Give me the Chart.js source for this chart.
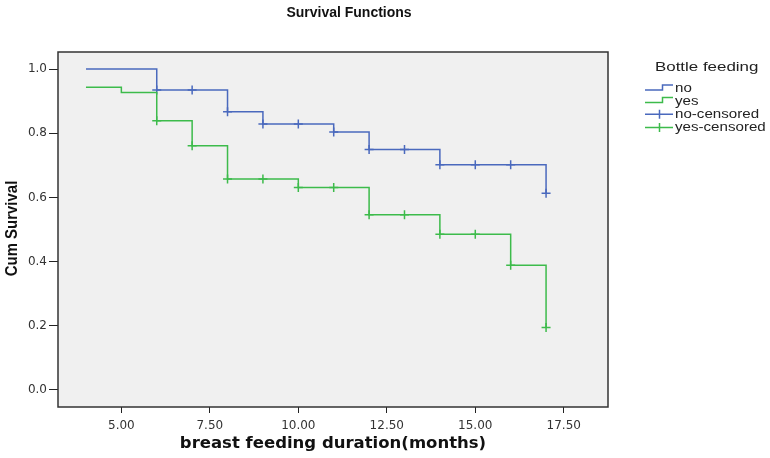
<!DOCTYPE html>
<html>
<head>
<meta charset="utf-8">
<script src="https://cdn.jsdelivr.net/npm/chart.js@4/dist/chart.umd.min.js"></script>
<style>
  html, body { margin: 0; padding: 0; background: #ffffff; }
  canvas { display: block; }
</style>
</head>
<body>
<canvas id="c" width="770" height="458"></canvas>
<script>
// ---- data ----
const noTimes = [4, 6, 8, 9, 11, 12, 14, 17];
const noSurvival = [1.0, 0.935, 0.867, 0.829, 0.804, 0.749, 0.702, 0.613];
const yesTimes = [4, 5, 6, 7, 8, 10, 12, 14, 16, 17];
const yesSurvival = [0.943, 0.927, 0.839, 0.761, 0.657, 0.631, 0.546, 0.485, 0.389, 0.195];

const noCensTimes = [6, 7, 8, 9, 10, 11, 12, 13, 14, 15, 16, 17];
const noCensSurvival = [0.935, 0.935, 0.867, 0.829, 0.829, 0.804, 0.749, 0.749, 0.702, 0.702, 0.702, 0.613];
const yesCensTimes = [6, 7, 8, 9, 10, 11, 12, 13, 14, 15, 16, 17];
const yesCensSurvival = [0.839, 0.761, 0.657, 0.657, 0.631, 0.631, 0.546, 0.546, 0.485, 0.485, 0.389, 0.195];

const xTickValues = [5, 7.5, 10, 12.5, 15, 17.5];
const xTickLabels = ['5.00', '7.50', '10.00', '12.50', '15.00', '17.50'];
const yTickValues = [0, 0.2, 0.4, 0.6, 0.8, 1.0];
const yTickLabels = ['0.0', '0.2', '0.4', '0.6', '0.8', '1.0'];

const chartTitle = 'Survival Functions';
const legendTitle = 'Bottle feeding';
const seriesNames = ['no', 'yes', 'no-censored', 'yes-censored'];
const xTitle = 'breast feeding duration(months)';
const yTitle = 'Cum Survival';

// ---- styles ----
const BLUE = '#4a69bd';
const GREEN = '#3dbb4b';

const toPts = (xs, ys) => xs.map((x, i) => ({ x: x, y: ys[i] }));

const framePlugin = {
  id: 'frame',
  beforeDraw(chart) {
    const { ctx, chartArea: a } = chart;
    ctx.save();
    ctx.fillStyle = '#ffffff';
    ctx.fillRect(0, 0, chart.width, chart.height);
    ctx.fillStyle = '#f0f0f0';
    ctx.fillRect(a.left, a.top, a.right - a.left, a.bottom - a.top);
    ctx.restore();
  },
  beforeDatasetsDraw(chart) {
    const { ctx, chartArea: a } = chart;
    ctx.save();
    ctx.strokeStyle = '#333333';
    ctx.lineWidth = 1.5;
    ctx.strokeRect(a.left, a.top, a.right - a.left, a.bottom - a.top);
    ctx.restore();
  },
  afterDraw(chart) {
    const ctx = chart.ctx;
    const a = chart.chartArea;
    ctx.save();
    // main title
    ctx.fillStyle = '#111111';
    ctx.font = 'bold 14px "Liberation Sans", Arial, sans-serif';
    ctx.textAlign = 'center';
    ctx.textBaseline = 'middle';
    ctx.fillText(chartTitle, 349, 13);

    // y-axis title (condensed bold, rotated)
    ctx.save();
    ctx.translate(12, (a.top + a.bottom) / 2 - 1);
    ctx.rotate(-Math.PI / 2);
    ctx.scale(0.88, 1);
    ctx.font = 'bold 17px "Liberation Sans", Arial, sans-serif';
    ctx.fillStyle = '#111111';
    ctx.textAlign = 'center';
    ctx.textBaseline = 'middle';
    ctx.fillText(yTitle, 0, 0);
    ctx.restore();

    // legend
    const stretchText = (txt, x, y, font, sx) => {
      ctx.save();
      ctx.translate(x, y);
      ctx.scale(sx, 1);
      ctx.font = font;
      ctx.textAlign = 'left';
      ctx.textBaseline = 'middle';
      ctx.fillText(txt, 0, 0);
      ctx.restore();
    };
    ctx.fillStyle = '#222222';
    stretchText(legendTitle, 655, 67, '13px "Liberation Sans", Arial, sans-serif', 1.3);
    const rowY = [88.5, 101, 114.3, 127.5];
    const colors = [BLUE, GREEN, BLUE, GREEN];
    for (let i = 0; i < 4; i++) {
      const y = rowY[i];
      ctx.strokeStyle = colors[i];
      ctx.lineWidth = 1.5;
      ctx.beginPath();
      if (i < 2) {
        ctx.moveTo(645, y + 1.5);
        ctx.lineTo(662.5, y + 1.5);
        ctx.lineTo(662.5, y - 3.5);
        ctx.lineTo(673, y - 3.5);
      } else {
        ctx.moveTo(645, y);
        ctx.lineTo(673, y);
        ctx.moveTo(659.5, y - 4.5);
        ctx.lineTo(659.5, y + 4.5);
      }
      ctx.stroke();
      ctx.fillStyle = '#222222';
      stretchText(seriesNames[i], 675, y + 0.5, '12px "Liberation Sans", Arial, sans-serif', 1.26);
    }
    ctx.restore();
  }
};

const lineDs = (label, xs, ys, color) => ({
  label: label,
  data: toPts(xs, ys),
  showLine: true,
  stepped: 'before',
  borderColor: color,
  backgroundColor: color,
  borderWidth: 1.5,
  pointRadius: 0,
  fill: false
});
const censDs = (label, xs, ys, color) => ({
  label: label,
  data: toPts(xs, ys),
  showLine: false,
  pointStyle: 'cross',
  pointRadius: 4.5,
  pointBorderWidth: 1.5,
  borderColor: color,
  backgroundColor: color
});

new Chart(document.getElementById('c'), {
  type: 'scatter',
  data: {
    datasets: [
      lineDs(seriesNames[0], noTimes, noSurvival, BLUE),
      lineDs(seriesNames[1], yesTimes, yesSurvival, GREEN),
      censDs(seriesNames[2], noCensTimes, noCensSurvival, BLUE),
      censDs(seriesNames[3], yesCensTimes, yesCensSurvival, GREEN)
    ]
  },
  options: {
    responsive: false,
    animation: false,
    devicePixelRatio: 1,
    layout: { padding: { top: 52, right: 162, left: 0, bottom: 0 } },
    plugins: {
      legend: { display: false },
      title: { display: false },
      tooltip: { enabled: false }
    },
    scales: {
      x: {
        type: 'linear',
        min: 3.21,
        max: 18.75,
        afterBuildTicks: s => { s.ticks = xTickValues.map(v => ({ value: v })); },
        afterFit: s => { s.height = 51; },
        ticks: {
          callback: (v, i) => xTickLabels[i],
          font: { family: 'DejaVu Sans', size: 12 },
          color: '#333333',
          padding: 6,
          maxRotation: 0,
          autoSkip: false
        },
        grid: { drawOnChartArea: false, drawTicks: true, tickLength: 6, color: '#222222', tickColor: '#222222', tickWidth: 1 },
        border: { display: false },
        title: {
          display: true,
          text: xTitle,
          color: '#111111',
          font: { family: 'DejaVu Sans', weight: 'bold', size: 16.5 },
          padding: { top: 0, bottom: 4 }
        }
      },
      y: {
        type: 'linear',
        min: -0.053,
        max: 1.053,
        afterBuildTicks: s => { s.ticks = yTickValues.map(v => ({ value: v })); },
        afterFit: s => { s.width = 58; },
        ticks: {
          callback: (v, i) => yTickLabels[i],
          font: { family: 'DejaVu Sans', size: 12 },
          color: '#333333',
          padding: 2,
          autoSkip: false
        },
        grid: { drawOnChartArea: false, drawTicks: true, tickLength: 9, color: '#222222', tickColor: '#222222', tickWidth: 1 },
        border: { display: false },
        title: { display: false }
      }
    }
  },
  plugins: [framePlugin]
});
</script>
</body>
</html>
